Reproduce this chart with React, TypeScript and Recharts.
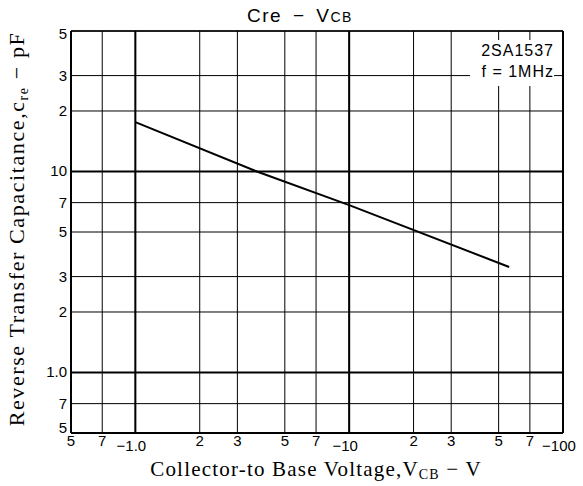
import React from 'react';
import {
  LineChart, Line, XAxis, YAxis, CartesianGrid, ReferenceLine, Label,
} from 'recharts';

const voltage = [1, 3.7, 10, 56];
const capacitance = [17.6, 10, 6.8, 3.35];

const xTicks = [0.5, 0.7, 1, 2, 3, 5, 7, 10, 20, 30, 50, 70, 100];
const xTickLabels = ['5', '7', '−1.0', '2', '3', '5', '7', '−10', '2', '3', '5', '7', '−100'];
const yTicks = [0.5, 0.7, 1, 2, 3, 5, 7, 10, 20, 30, 50];
const yTickLabels = ['5', '7', '1.0', '2', '3', '5', '7', '10', '2', '3', '5'];
const decadesX = [1, 10];
const decadesY = [1, 10];

const chartData = voltage.map((v, i) => ({ v, c: capacitance[i] }));

const SANS = '"Liberation Sans", Arial, sans-serif';
const SERIF = '"Liberation Serif", "Times New Roman", serif';

const XTick = (props: any) => {
  const { x, y, index } = props;
  const label = xTickLabels[index];
  const neg = label.startsWith('−');
  return (
    <text x={neg ? x - 4 : x} y={neg ? y + 18 : y + 13} textAnchor="middle"
      fontFamily={SANS} fontSize={15} fill="#000">
      {label}
    </text>
  );
};

const YTick = (props: any) => {
  const { x, y, index } = props;
  const label = yTickLabels[index];
  let dy = 5;
  if (index === yTicks.length - 1) dy = 8;
  if (index === 0) dy = 0;
  return (
    <text x={x} y={y + dy} textAnchor="end" fontFamily={SANS} fontSize={15} fill="#000">
      {label}
    </text>
  );
};

const XLabel = () => (
  <text x={316} y={476} textAnchor="middle" fontFamily={SERIF} fontSize={21}
    letterSpacing={1.2} fill="#000">
    <tspan>Collector-to Base Voltage,V</tspan>
    <tspan fontSize={14} dy={3}>CB</tspan>
    <tspan dy={-3}> − V</tspan>
  </text>
);

const YLabel = () => (
  <text x={24} y={229} transform="rotate(-90, 24, 229)" textAnchor="middle"
    fontFamily={SERIF} fontSize={22} letterSpacing={1.6} fill="#000">
    <tspan>Reverse Transfer Capacitance,c</tspan>
    <tspan fontSize={14} dy={4}>re</tspan>
    <tspan dy={-4}> − pF</tspan>
  </text>
);

export default function App() {
  return (
    <div style={{ position: 'absolute', left: 0, top: 0, width: 583, height: 486, background: '#fff' }}>
      <LineChart width={583} height={486} data={chartData}
        margin={{ top: 31, right: 20, left: 0, bottom: 0 }}>
        <CartesianGrid stroke="#000" strokeWidth={1} />
        <XAxis dataKey="v" type="number" scale="log" domain={[0.5, 100]} ticks={xTicks}
          allowDataOverflow height={53} tickLine={false} tickSize={0} tickMargin={0}
          axisLine={{ stroke: '#000', strokeWidth: 2 }} tick={<XTick />} interval={0}>
          <Label content={<XLabel />} />
        </XAxis>
        <YAxis dataKey="c" type="number" scale="log" domain={[0.5, 50]} ticks={yTicks}
          allowDataOverflow width={71} tickLine={false} tickSize={0} tickMargin={4}
          axisLine={{ stroke: '#000', strokeWidth: 2 }} tick={<YTick />} interval={0}>
          <Label content={<YLabel />} />
        </YAxis>
        {decadesX.map((d) => (
          <ReferenceLine key={`x${d}`} x={d} stroke="#000" strokeWidth={2} />
        ))}
        {decadesY.map((d) => (
          <ReferenceLine key={`y${d}`} y={d} stroke="#000" strokeWidth={2} />
        ))}
        <ReferenceLine x={100} stroke="#000" strokeWidth={2} />
        <ReferenceLine y={50} stroke="#000" strokeWidth={1.5} />
        <Line dataKey="c" stroke="#000" strokeWidth={2} dot={false} isAnimationActive={false} />
      </LineChart>

      <div style={{
        position: 'absolute', left: 0, top: 5, width: 600, textAlign: 'center',
        fontFamily: SANS, fontSize: 19, letterSpacing: 1.5, wordSpacing: 4, color: '#000',
      }}>
        Cre − V<span style={{ fontSize: 14 }}>CB</span>
      </div>

      <div style={{
        position: 'absolute', left: 470, top: 40, width: 84, height: 46, background: '#fff',
        fontFamily: SANS, fontSize: 16, letterSpacing: 1, color: '#000', textAlign: 'right',
        lineHeight: '21px',
      }}>
        <div>2SA1537</div>
        <div>f = 1MHz</div>
      </div>
    </div>
  );
}
